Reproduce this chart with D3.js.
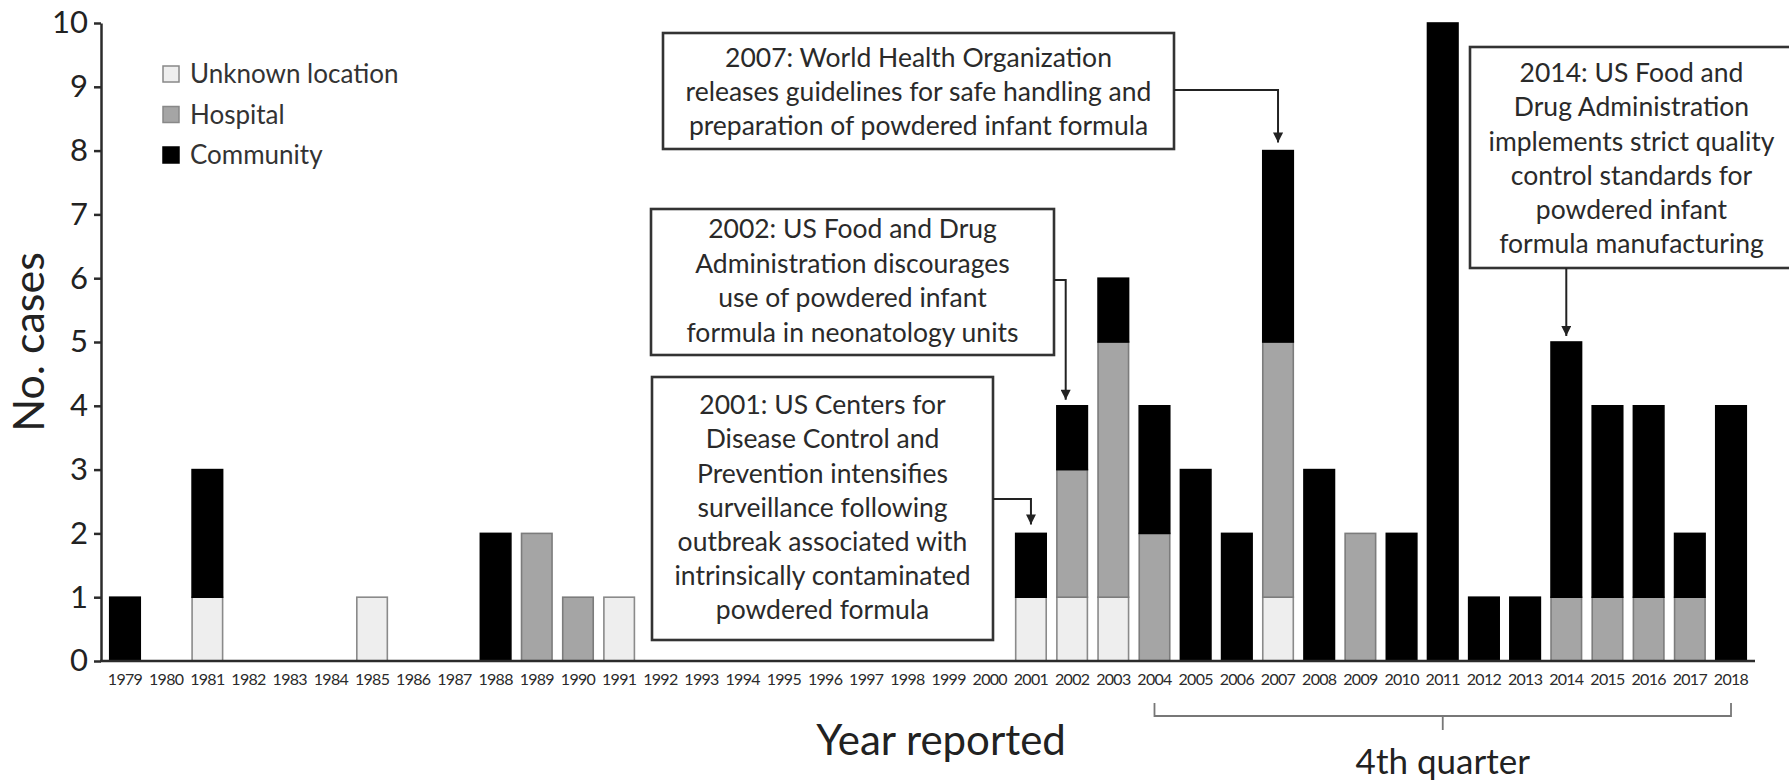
<!DOCTYPE html>
<html>
<head>
<meta charset="utf-8">
<script src="https://cdn.jsdelivr.net/npm/d3@7"></script>
<style>
    body { margin: 0; background: #fff; }
    svg { display: block; font-family: Lato, "Open Sans", sans-serif; }
</style>
</head>
<body>
<svg id="chart" width="1789" height="784"></svg>
<script>
// categories
var years = [1979, 1980, 1981, 1982, 1983, 1984, 1985, 1986, 1987, 1988,
             1989, 1990, 1991, 1992, 1993, 1994, 1995, 1996, 1997, 1998,
             1999, 2000, 2001, 2002, 2003, 2004, 2005, 2006, 2007, 2008,
             2009, 2010, 2011, 2012, 2013, 2014, 2015, 2016, 2017, 2018];

// cases per year, one list per location
var unknownCases   = [0, 0, 1, 0, 0, 0, 1, 0, 0, 0,
                      0, 0, 1, 0, 0, 0, 0, 0, 0, 0,
                      0, 0, 1, 1, 1, 0, 0, 0, 1, 0,
                      0, 0, 0, 0, 0, 0, 0, 0, 0, 0];
var hospitalCases  = [0, 0, 0, 0, 0, 0, 0, 0, 0, 0,
                      2, 1, 0, 0, 0, 0, 0, 0, 0, 0,
                      0, 0, 0, 2, 4, 2, 0, 0, 4, 0,
                      2, 0, 0, 0, 0, 1, 1, 1, 1, 0];
var communityCases = [1, 0, 2, 0, 0, 0, 0, 0, 0, 2,
                      0, 0, 0, 0, 0, 0, 0, 0, 0, 0,
                      0, 0, 1, 1, 1, 2, 3, 2, 3, 3,
                      0, 2, 10, 1, 1, 4, 3, 3, 1, 4];

var seriesNames = ['Unknown location', 'Hospital', 'Community'];
var yTicks = [0, 1, 2, 3, 4, 5, 6, 7, 8, 9, 10];

// annotation texts
var note2001 = ['2001: US Centers for', 'Disease Control and', 'Prevention intensifies',
                'surveillance following', 'outbreak associated with',
                'intrinsically contaminated', 'powdered formula'];
var note2002 = ['2002: US Food and Drug', 'Administration discourages',
                'use of powdered infant', 'formula in neonatology units'];
var note2007 = ['2007: World Health Organization', 'releases guidelines for safe handling and',
                'preparation of powdered infant formula'];
var note2014 = ['2014: US Food and', 'Drug Administration', 'implements strict quality',
                'control standards for', 'powdered infant', 'formula manufacturing'];

var fills   = {'Unknown location': '#eeeeee', 'Hospital': '#a5a5a5', 'Community': '#000000'};
var strokes = {'Unknown location': '#8a8a8a', 'Hospital': '#7c7c7c', 'Community': '#000000'};
var ink = '#2b2b2b';

var svg = d3.select('#chart');

var x = d3.scaleBand()
    .domain(years)
    .range([104.4, 1751.6])
    .paddingInner(0.22)
    .paddingOuter(0.11);

var y = d3.scaleLinear()
    .domain([0, 10])
    .range([661, 23]);

var rows = years.map(function(yr, i) {
    return {
        year: yr,
        'Unknown location': unknownCases[i],
        'Hospital': hospitalCases[i],
        'Community': communityCases[i]
    };
});

var stacked = d3.stack().keys(seriesNames)(rows);

// bars
svg.append('g')
    .selectAll('g')
    .data(stacked)
    .join('g')
    .attr('fill', function(d) { return fills[d.key]; })
    .attr('stroke', function(d) { return strokes[d.key]; })
    .attr('stroke-width', 1.6)
    .selectAll('rect')
    .data(function(d) { return d.filter(function(p) { return p[1] > p[0]; }); })
    .join('rect')
    .attr('x', function(d) { return x(d.data.year) + 0.8; })
    .attr('width', x.bandwidth() - 1.6)
    .attr('y', function(d) { return y(d[1]); })
    .attr('height', function(d) { return y(d[0]) - y(d[1]); });

// y axis
var yAxis = svg.append('g')
    .attr('transform', 'translate(101,0)')
    .call(d3.axisLeft(y).tickValues(yTicks).tickSize(7).tickPadding(6).tickSizeOuter(0));
yAxis.select('.domain').attr('stroke', ink).attr('stroke-width', 2.5);
yAxis.selectAll('.tick line').attr('stroke', ink).attr('stroke-width', 2.5);
yAxis.selectAll('.tick text')
    .attr('fill', '#222')
    .style('font-size', '31px')
    .style('font-family', 'Lato, sans-serif');

// x axis
var xAxis = svg.append('g')
    .attr('transform', 'translate(0,661)')
    .call(d3.axisBottom(x).tickSize(0).tickPadding(13));
xAxis.select('.domain')
    .attr('d', 'M100,0H1755')
    .attr('stroke', ink)
    .attr('stroke-width', 2.5);
xAxis.selectAll('.tick text')
    .attr('fill', '#2a2a2a')
    .style('font-size', '16px')
    .style('letter-spacing', '-0.7px')
    .style('font-family', 'Lato, sans-serif');

// axis titles
svg.append('text')
    .attr('transform', 'translate(44,342) rotate(-90)')
    .attr('text-anchor', 'middle')
    .attr('fill', '#222')
    .style('font-size', '43px')
    .text('No. cases');

svg.append('text')
    .attr('x', 941)
    .attr('y', 755)
    .attr('text-anchor', 'middle')
    .attr('fill', '#222')
    .style('font-size', '42px')
    .text('Year reported');

// 4th quarter bracket
var bx0 = x(2004) + x.bandwidth() / 2,
    bx1 = x(2018) + x.bandwidth() / 2,
    bxm = (bx0 + bx1) / 2;
svg.append('path')
    .attr('d', 'M' + bx0 + ',703V716H' + bx1 + 'V703M' + bxm + ',716V730')
    .attr('fill', 'none')
    .attr('stroke', '#777')
    .attr('stroke-width', 1.8);
svg.append('text')
    .attr('x', bxm)
    .attr('y', 774)
    .attr('text-anchor', 'middle')
    .attr('fill', '#222')
    .style('font-size', '35px')
    .text('4th quarter');

// legend
var legend = svg.append('g').attr('transform', 'translate(163,66)');
var items = legend.selectAll('g')
    .data(seriesNames)
    .join('g')
    .attr('transform', function(d, i) { return 'translate(0,' + (i * 40.5) + ')'; });
items.append('rect')
    .attr('width', 16).attr('height', 16)
    .attr('fill', function(d) { return fills[d]; })
    .attr('stroke', function(d) { return d === 'Community' ? '#000' : '#888'; })
    .attr('stroke-width', 1.5);
items.append('text')
    .attr('x', 27)
    .attr('y', 8)
    .attr('dy', '0.36em')
    .attr('fill', '#333')
    .style('font-size', '26px')
    .text(function(d) { return d; });

// annotations
svg.append('defs').append('marker')
    .attr('id', 'arrow')
    .attr('viewBox', '0 0 10 10')
    .attr('refX', 10).attr('refY', 5)
    .attr('markerUnits', 'userSpaceOnUse')
    .attr('markerWidth', 11).attr('markerHeight', 10)
    .attr('orient', 'auto')
    .append('path')
    .attr('d', 'M0,0L10,5L0,10Z')
    .attr('fill', '#222');

function drawNote(lines, box, lineTop, lineGap) {
    var g = svg.append('g');
    g.append('rect')
        .attr('x', box[0]).attr('y', box[1])
        .attr('width', box[2] - box[0]).attr('height', box[3] - box[1])
        .attr('fill', '#fff')
        .attr('stroke', '#333')
        .attr('stroke-width', 2.6);
    var cx = (box[0] + box[2]) / 2;
    g.selectAll('text')
        .data(lines)
        .join('text')
        .attr('x', cx)
        .attr('y', function(d, i) { return lineTop + i * lineGap; })
        .attr('dy', '0.35em')
        .attr('text-anchor', 'middle')
        .attr('fill', '#2a2a2a')
        .style('font-size', '26.5px')
        .text(function(d) { return d; });
}

function drawLink(d) {
    svg.append('path')
        .attr('d', d)
        .attr('fill', 'none')
        .attr('stroke', '#222')
        .attr('stroke-width', 2)
        .attr('marker-end', 'url(#arrow)');
}

var cx2001 = x(2001) + x.bandwidth() / 2,
    cx2002 = x(2002) + x.bandwidth() * 0.3,
    cx2007 = x(2007) + x.bandwidth() / 2,
    cx2014 = x(2014) + x.bandwidth() / 2;

drawNote(note2007, [663, 33, 1174, 149], 58, 34);
drawLink('M1174,90H' + cx2007 + 'V' + (y(8) - 8));

drawNote(note2002, [651, 209, 1054, 355], 229, 34.5);
drawLink('M1054,280H' + cx2002 + 'V' + (y(4) - 6));

drawNote(note2001, [652, 377, 993, 640], 405, 34.2);
drawLink('M993,499H' + cx2001 + 'V' + (y(2) - 9));

drawNote(note2014, [1470, 47, 1793, 268], 73, 34.2);
drawLink('M' + cx2014 + ',268V' + (y(5) - 6));
</script>
</body>
</html>
